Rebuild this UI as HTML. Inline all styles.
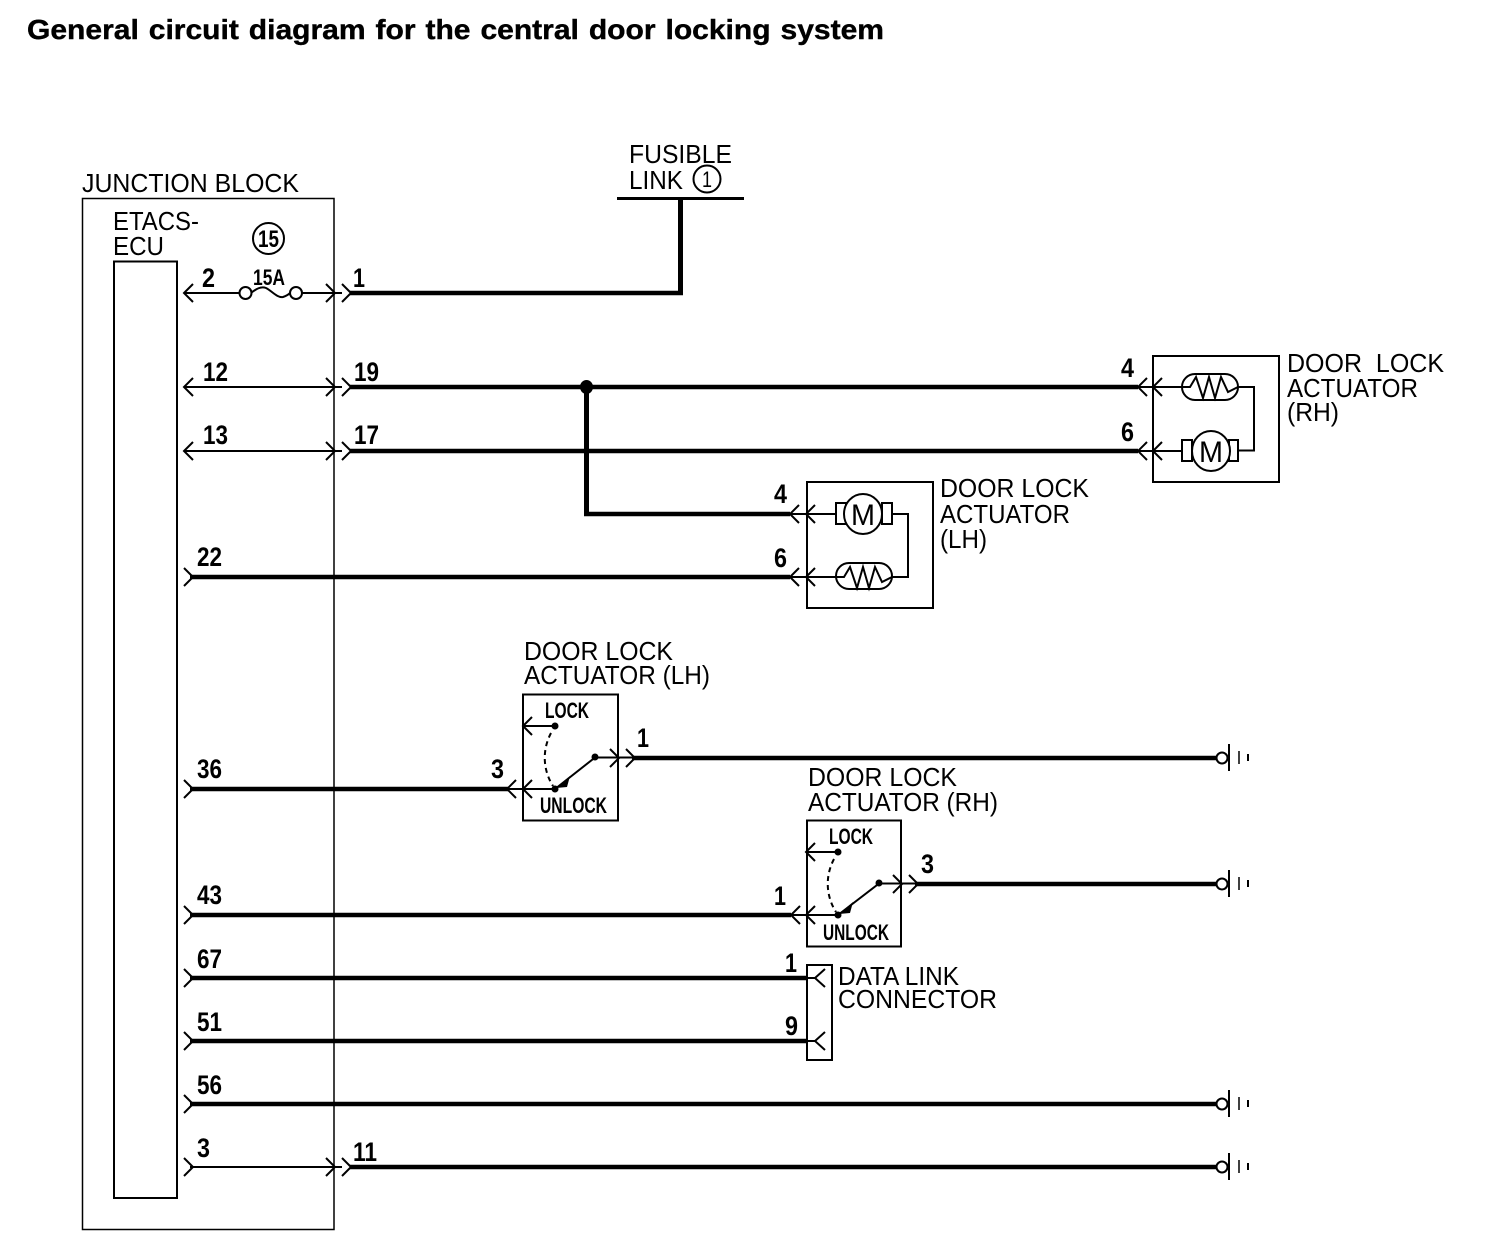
<!DOCTYPE html>
<html><head><meta charset="utf-8"><title>General circuit diagram for the central door locking system</title>
<style>
html,body{margin:0;padding:0;background:#fff}
svg{display:block}
text{font-family:"Liberation Sans",sans-serif;fill:#000}
.t{font-size:26px}
.n{font-size:27px;font-weight:bold}
.b{font-size:22px;font-weight:bold}
.w{fill:none;stroke:#000;stroke-width:4.500}
.v{fill:none;stroke:#000;stroke-width:5}
.l{fill:none;stroke:#000;stroke-width:2}
.h{fill:none;stroke:#000;stroke-width:1.5}
.c{fill:none;stroke:#000;stroke-width:2}
</style></head><body>
<svg width="1504" height="1248" viewBox="0 0 1504 1248" xmlns="http://www.w3.org/2000/svg">
<rect width="1504" height="1248" fill="#fff"/>
<text x="27" y="39" font-size="28" font-weight="bold" word-spacing="1.5" stroke="#000" stroke-width="0.4" textLength="857" lengthAdjust="spacingAndGlyphs">General circuit diagram for the central door locking system</text>

<!-- boxes -->
<rect x="82.5" y="198.5" width="251.5" height="1031" class="h"/>
<path d="M114 1198V261.500H177V1198Z" class="l"/>
<rect x="1153" y="356" width="126" height="126" class="l"/>
<rect x="807" y="482" width="126" height="126" class="l"/>
<rect x="523" y="694.500" width="95" height="126" class="l"/>
<rect x="807" y="820.500" width="94" height="126" class="l"/>
<rect x="807" y="965" width="25" height="95" class="l"/>

<!-- thick wires -->
<path class="l" style="stroke-width:3" d="M617 198.500H744"/>
<path class="v" d="M680.500 198V295"/>
<path class="w" d="M683 293H350"/>
<path class="w" d="M350 387H1138M350 451H1138"/>
<path class="v" d="M586.500 387V516"/>
<path class="w" d="M584 514H790"/>
<ellipse cx="586.500" cy="387" rx="6.500" ry="7" fill="#000"/>
<path class="w" d="M190 577H790"/>
<path class="w" d="M190 789H508M190 915H791M190 978H808M190 1041H808"/>
<path class="w" d="M632 758H1217M915 884H1217M190 1104H1217M350 1167H1217"/>

<!-- thin wires -->
<path class="l" d="M185 293H240M302 293H342M185 387H342M185 451H342M190 1167H342"/>
<path class="l" d="M251 293C256 289 261 286 266 288C272 291 277 298 283 297C286 296 288 295 290 293"/>
<circle cx="245.500" cy="293" r="6" fill="#fff" stroke="#000" stroke-width="2"/>
<circle cx="296" cy="293" r="6" fill="#fff" stroke="#000" stroke-width="2"/>

<!-- chevrons: junction block left -->
<path class="c" d="M193 284L184 293L193 302M193 378L184 387L193 396M193 442L184 451L193 460"/>
<path class="c" d="M184 568L193 577L184 586M184 780L193 789L184 798M184 906L193 915L184 924M184 969L193 978L184 987M184 1032L193 1041L184 1050M184 1095L193 1104L184 1113M184 1158L193 1167L184 1176"/>
<!-- chevrons: junction block right -->
<path class="c" d="M326 284L335 293L326 302M342 284L351 293L342 302M326 378L335 387L326 396M342 378L351 387L342 396M326 442L335 451L326 460M342 442L351 451L342 460M326 1158L335 1167L326 1176M342 1158L351 1167L342 1176"/>

<!-- RH actuator -->
<path class="c" d="M1147 378L1138 387L1147 396M1162 378L1153 387L1162 396M1147 442L1138 451L1147 460M1162 442L1153 451L1162 460"/>
<path class="l" d="M1138 387H1182M1138 451H1182"/>
<path class="l" d="M1238 387H1254V450.500H1238"/>
<rect x="1182" y="374" width="56" height="26" rx="13" ry="13" class="l"/>
<polyline class="l" points="1182,387 1190,387 1196,377 1203,398 1209,377 1215,398 1221,377 1228,392 1238,387"/>
<rect x="1182" y="440" width="10" height="21" class="l"/>
<rect x="1229" y="440" width="9" height="21" class="l"/>
<ellipse cx="1211" cy="451" rx="19" ry="20" fill="#fff" stroke="#000" stroke-width="2"/>
<text x="1199" y="462" font-size="30" textLength="24" lengthAdjust="spacingAndGlyphs">M</text>

<!-- LH actuator -->
<path class="c" d="M799 505L790 514L799 523M815 505L806 514L815 523M799 568L790 577L799 586M815 568L806 577L815 586"/>
<path class="l" d="M790 514H836M790 577H836"/>
<path class="l" d="M892 514H908V577H892"/>
<rect x="836" y="563" width="56" height="26" rx="13" ry="13" class="l"/>
<polyline class="l" points="836,577 844,577 850,567 857,588 863,567 869,588 875,567 882,582 892,577"/>
<rect x="836" y="503" width="10" height="21" class="l"/>
<rect x="882" y="503" width="10" height="21" class="l"/>
<ellipse cx="863" cy="514" rx="19" ry="20" fill="#fff" stroke="#000" stroke-width="2"/>
<text x="851" y="525" font-size="30" textLength="24" lengthAdjust="spacingAndGlyphs">M</text>

<!-- switch LH -->
<path class="c" d="M516 780L507 789L516 798M532 780L523 789L532 798M532 717L523 726L532 735M610 749L619 758L610 767M626 749L635 758L626 767"/>
<path class="l" d="M507 789H555M523 726H555M595 757.500H632M595 757.500L555 789"/>
<circle cx="555" cy="726" r="3.500" fill="#000"/>
<circle cx="555" cy="789" r="3.500" fill="#000"/>
<circle cx="595" cy="757" r="3.500" fill="#000"/>
<path d="M556 788L570 776L567 787Z" fill="#000"/>
<path d="M551 733C541 752 544 772 553 786" fill="none" stroke="#000" stroke-width="2" stroke-dasharray="5 4"/>

<!-- switch RH -->
<path class="c" d="M800 906L791 915L800 924M815 906L806 915L815 924M815 843L806 852L815 861M893 875L902 884L893 893M909 875L918 884L909 893"/>
<path class="l" d="M791 915H838M806 852H838M879 883.500H915M879 883.500L838 915"/>
<circle cx="838" cy="852" r="3.500" fill="#000"/>
<circle cx="838" cy="915" r="3.500" fill="#000"/>
<circle cx="879" cy="883" r="3.500" fill="#000"/>
<path d="M839 914L853 902L850 913Z" fill="#000"/>
<path d="M834 859C824 878 827 898 836 912" fill="none" stroke="#000" stroke-width="2" stroke-dasharray="5 4"/>

<!-- data link chevrons -->
<path class="c" d="M825 969L815 978L825 987M825 1032L815 1041L825 1050"/>
<path class="l" d="M806 978H815M806 1041H815"/>

<!-- grounds -->
<g fill="none" stroke="#000">
<circle cx="1222" cy="758" r="5.500" stroke-width="2"/><path d="M1229 744V771" stroke-width="2"/><path d="M1239 751V764" stroke-width="1.500"/><path d="M1248 754V761" stroke-width="2"/>
<circle cx="1222" cy="884" r="5.500" stroke-width="2"/><path d="M1229 870V897" stroke-width="2"/><path d="M1239 877V890" stroke-width="1.500"/><path d="M1248 880V887" stroke-width="2"/>
<circle cx="1222" cy="1104" r="5.500" stroke-width="2"/><path d="M1229 1090V1117" stroke-width="2"/><path d="M1239 1097V1110" stroke-width="1.500"/><path d="M1248 1100V1107" stroke-width="2"/>
<circle cx="1222" cy="1167" r="5.500" stroke-width="2"/><path d="M1229 1153V1180" stroke-width="2"/><path d="M1239 1160V1173" stroke-width="1.500"/><path d="M1248 1163V1170" stroke-width="2"/>
</g>

<!-- circled refs -->
<circle cx="268.500" cy="238.500" r="15.500" fill="none" stroke="#000" stroke-width="2"/>
<text x="258" y="247" font-size="24" font-weight="bold" textLength="21" lengthAdjust="spacingAndGlyphs">15</text>
<circle cx="707" cy="179" r="13.500" fill="none" stroke="#000" stroke-width="2"/>
<text x="702" y="187" font-size="22" textLength="10" lengthAdjust="spacingAndGlyphs">1</text>

<!-- regular labels -->
<text class="t" x="82" y="192" textLength="217" lengthAdjust="spacingAndGlyphs">JUNCTION BLOCK</text>
<text class="t" x="113" y="230" textLength="86" lengthAdjust="spacingAndGlyphs">ETACS-</text>
<text class="t" x="113" y="255" textLength="51" lengthAdjust="spacingAndGlyphs">ECU</text>
<text class="t" x="629" y="163" textLength="103" lengthAdjust="spacingAndGlyphs">FUSIBLE</text>
<text class="t" x="629" y="189" textLength="54" lengthAdjust="spacingAndGlyphs">LINK</text>
<text class="t" x="1287" y="372" textLength="157" lengthAdjust="spacingAndGlyphs" xml:space="preserve">DOOR  LOCK</text>
<text class="t" x="1287" y="397" textLength="131" lengthAdjust="spacingAndGlyphs">ACTUATOR</text>
<text class="t" x="1287" y="421" textLength="52" lengthAdjust="spacingAndGlyphs">(RH)</text>
<text class="t" x="940" y="497" textLength="149" lengthAdjust="spacingAndGlyphs">DOOR LOCK</text>
<text class="t" x="940" y="523" textLength="130" lengthAdjust="spacingAndGlyphs">ACTUATOR</text>
<text class="t" x="940" y="548" textLength="47" lengthAdjust="spacingAndGlyphs">(LH)</text>
<text class="t" x="524" y="660" textLength="149" lengthAdjust="spacingAndGlyphs">DOOR LOCK</text>
<text class="t" x="524" y="684" textLength="186" lengthAdjust="spacingAndGlyphs">ACTUATOR (LH)</text>
<text class="t" x="808" y="786" textLength="149" lengthAdjust="spacingAndGlyphs">DOOR LOCK</text>
<text class="t" x="808" y="811" textLength="190" lengthAdjust="spacingAndGlyphs">ACTUATOR (RH)</text>
<text class="t" x="838" y="985" textLength="121" lengthAdjust="spacingAndGlyphs">DATA LINK</text>
<text class="t" x="838" y="1008" textLength="159" lengthAdjust="spacingAndGlyphs">CONNECTOR</text>

<!-- bold small labels -->
<text class="b" x="253" y="285" textLength="32" lengthAdjust="spacingAndGlyphs">15A</text>
<text class="b" x="545" y="718" textLength="44" lengthAdjust="spacingAndGlyphs">LOCK</text>
<text class="b" x="540" y="813" textLength="67" lengthAdjust="spacingAndGlyphs">UNLOCK</text>
<text class="b" x="829" y="844" textLength="44" lengthAdjust="spacingAndGlyphs">LOCK</text>
<text class="b" x="823" y="940" textLength="66" lengthAdjust="spacingAndGlyphs">UNLOCK</text>

<!-- pin numbers -->
<text class="n" x="202" y="287" textLength="13" lengthAdjust="spacingAndGlyphs">2</text>
<text class="n" x="353" y="287" textLength="12" lengthAdjust="spacingAndGlyphs">1</text>
<text class="n" x="203" y="381" textLength="25" lengthAdjust="spacingAndGlyphs">12</text>
<text class="n" x="354" y="381" textLength="25" lengthAdjust="spacingAndGlyphs">19</text>
<text class="n" x="203" y="444" textLength="25" lengthAdjust="spacingAndGlyphs">13</text>
<text class="n" x="354" y="444" textLength="25" lengthAdjust="spacingAndGlyphs">17</text>
<text class="n" x="1121" y="377" textLength="13" lengthAdjust="spacingAndGlyphs">4</text>
<text class="n" x="1121" y="441" textLength="13" lengthAdjust="spacingAndGlyphs">6</text>
<text class="n" x="774" y="503" textLength="13" lengthAdjust="spacingAndGlyphs">4</text>
<text class="n" x="774" y="567" textLength="13" lengthAdjust="spacingAndGlyphs">6</text>
<text class="n" x="197" y="566" textLength="25" lengthAdjust="spacingAndGlyphs">22</text>
<text class="n" x="197" y="778" textLength="25" lengthAdjust="spacingAndGlyphs">36</text>
<text class="n" x="491" y="778" textLength="13" lengthAdjust="spacingAndGlyphs">3</text>
<text class="n" x="637" y="747" textLength="12" lengthAdjust="spacingAndGlyphs">1</text>
<text class="n" x="197" y="904" textLength="25" lengthAdjust="spacingAndGlyphs">43</text>
<text class="n" x="774" y="905" textLength="12" lengthAdjust="spacingAndGlyphs">1</text>
<text class="n" x="921" y="873" textLength="13" lengthAdjust="spacingAndGlyphs">3</text>
<text class="n" x="197" y="968" textLength="25" lengthAdjust="spacingAndGlyphs">67</text>
<text class="n" x="785" y="972" textLength="12" lengthAdjust="spacingAndGlyphs">1</text>
<text class="n" x="197" y="1031" textLength="25" lengthAdjust="spacingAndGlyphs">51</text>
<text class="n" x="785" y="1035" textLength="13" lengthAdjust="spacingAndGlyphs">9</text>
<text class="n" x="197" y="1094" textLength="25" lengthAdjust="spacingAndGlyphs">56</text>
<text class="n" x="197" y="1157" textLength="13" lengthAdjust="spacingAndGlyphs">3</text>
<text class="n" x="353" y="1161" textLength="24" lengthAdjust="spacingAndGlyphs">11</text>
</svg>
</body></html>
